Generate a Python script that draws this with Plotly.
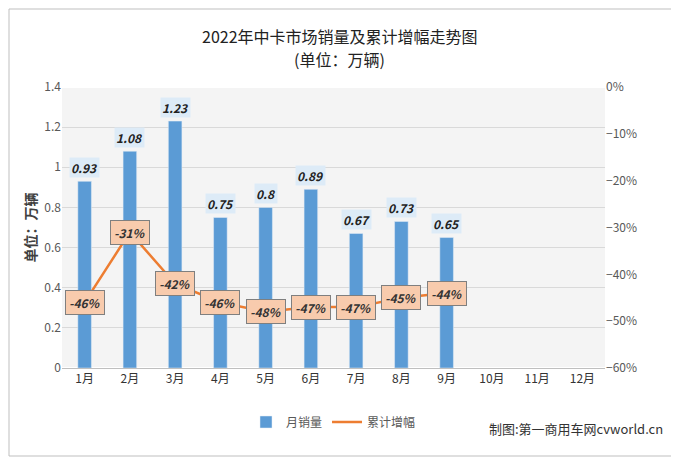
import plotly.graph_objects as go

months = ["1月","2月","3月","4月","5月","6月","7月","8月","9月","10月","11月","12月"]
sales = [0.93,1.08,1.23,0.75,0.8,0.89,0.67,0.73,0.65]
growth = [-46,-31,-42,-46,-48,-47,-47,-45,-44]

W, H, L, R, T, B = 671, 449, 54, 74, 79, 89
pw, ph = W - L - R, H - T - B
OFF = 8  # page offset

fig = go.Figure()
fig.add_trace(go.Bar(x=months[:9], y=sales, name="月销量", marker_color="#5B9BD5", width=0.3))
fig.add_trace(go.Scatter(x=months[:9], y=growth, name="累计增幅", yaxis="y2", mode="lines",
                         line=dict(color="#ED7D31", width=2.5)))
for m, v in zip(months, sales):
    fig.add_annotation(x=m, y=v, text=f"<b><i>{v:g}</i></b>", yshift=14, showarrow=False,
                       bgcolor="#DDEBF7", font=dict(size=12, color="#222"))
for m, v in zip(months, growth):
    fig.add_annotation(x=m, y=v, yref="y2", text=f"<b><i>{v}%</i></b>", showarrow=False,
                       bgcolor="#F8CBAD", bordercolor="#7F7F7F", borderwidth=1, borderpad=3,
                       font=dict(size=12, color="#333"))
fig.update_layout(
    width=W, height=H, paper_bgcolor="white", plot_bgcolor="#F4F4F4",
    margin=dict(l=L, r=R, t=T, b=B, autoexpand=False),
    font=dict(family="Noto Sans CJK SC", size=12, color="#595959"),
    xaxis=dict(categoryorder="array", categoryarray=months, range=[-0.5, 11.5],
               showline=True, linecolor="#BFBFBF", tickfont=dict(size=12, color="#333")),
    yaxis=dict(range=[0, 1.4], dtick=0.2, gridcolor="#D9D9D9",
               title=dict(text="<b>单位：万辆</b>", standoff=4, font=dict(color="#404040")),
               tickformat="~g"),
    yaxis2=dict(range=[-60, 0], dtick=10, overlaying="y", side="right", ticksuffix="%", showgrid=False),
    legend=dict(orientation="h", x=0.5, xanchor="center", y=-(422 - 368) / ph, yanchor="middle",
                font=dict(size=12)),
    bargap=0.5,
)
cx = (679/2 - OFF - L) / pw
fig.add_annotation(text="2022年中卡市场销量及累计增幅走势图", xref="paper", yref="paper", x=cx,
                   y=(368 - 22) / ph, showarrow=False, font=dict(size=16, color="#222"))
fig.add_annotation(text="(单位：万辆)", xref="paper", yref="paper", x=cx,
                   y=(368 - 45) / ph, showarrow=False, font=dict(size=16, color="#222"))
fig.add_annotation(text="制图:第一商用车网cvworld.cn", xref="paper", yref="paper", x=(665 - OFF - L)/pw,
                   y=-(440 - 368) / ph, xanchor="right", showarrow=False, font=dict(size=13, color="#333"))
fig.add_shape(type="rect", xref="paper", yref="paper", x0=-(L - 1)/pw, x1=(W - L - 1)/pw,
              y0=-(B - 1)/ph, y1=(H - B - 1)/ph, line=dict(color="#BFBFBF", width=1), layer="above")
fig.write_html("out.html")
